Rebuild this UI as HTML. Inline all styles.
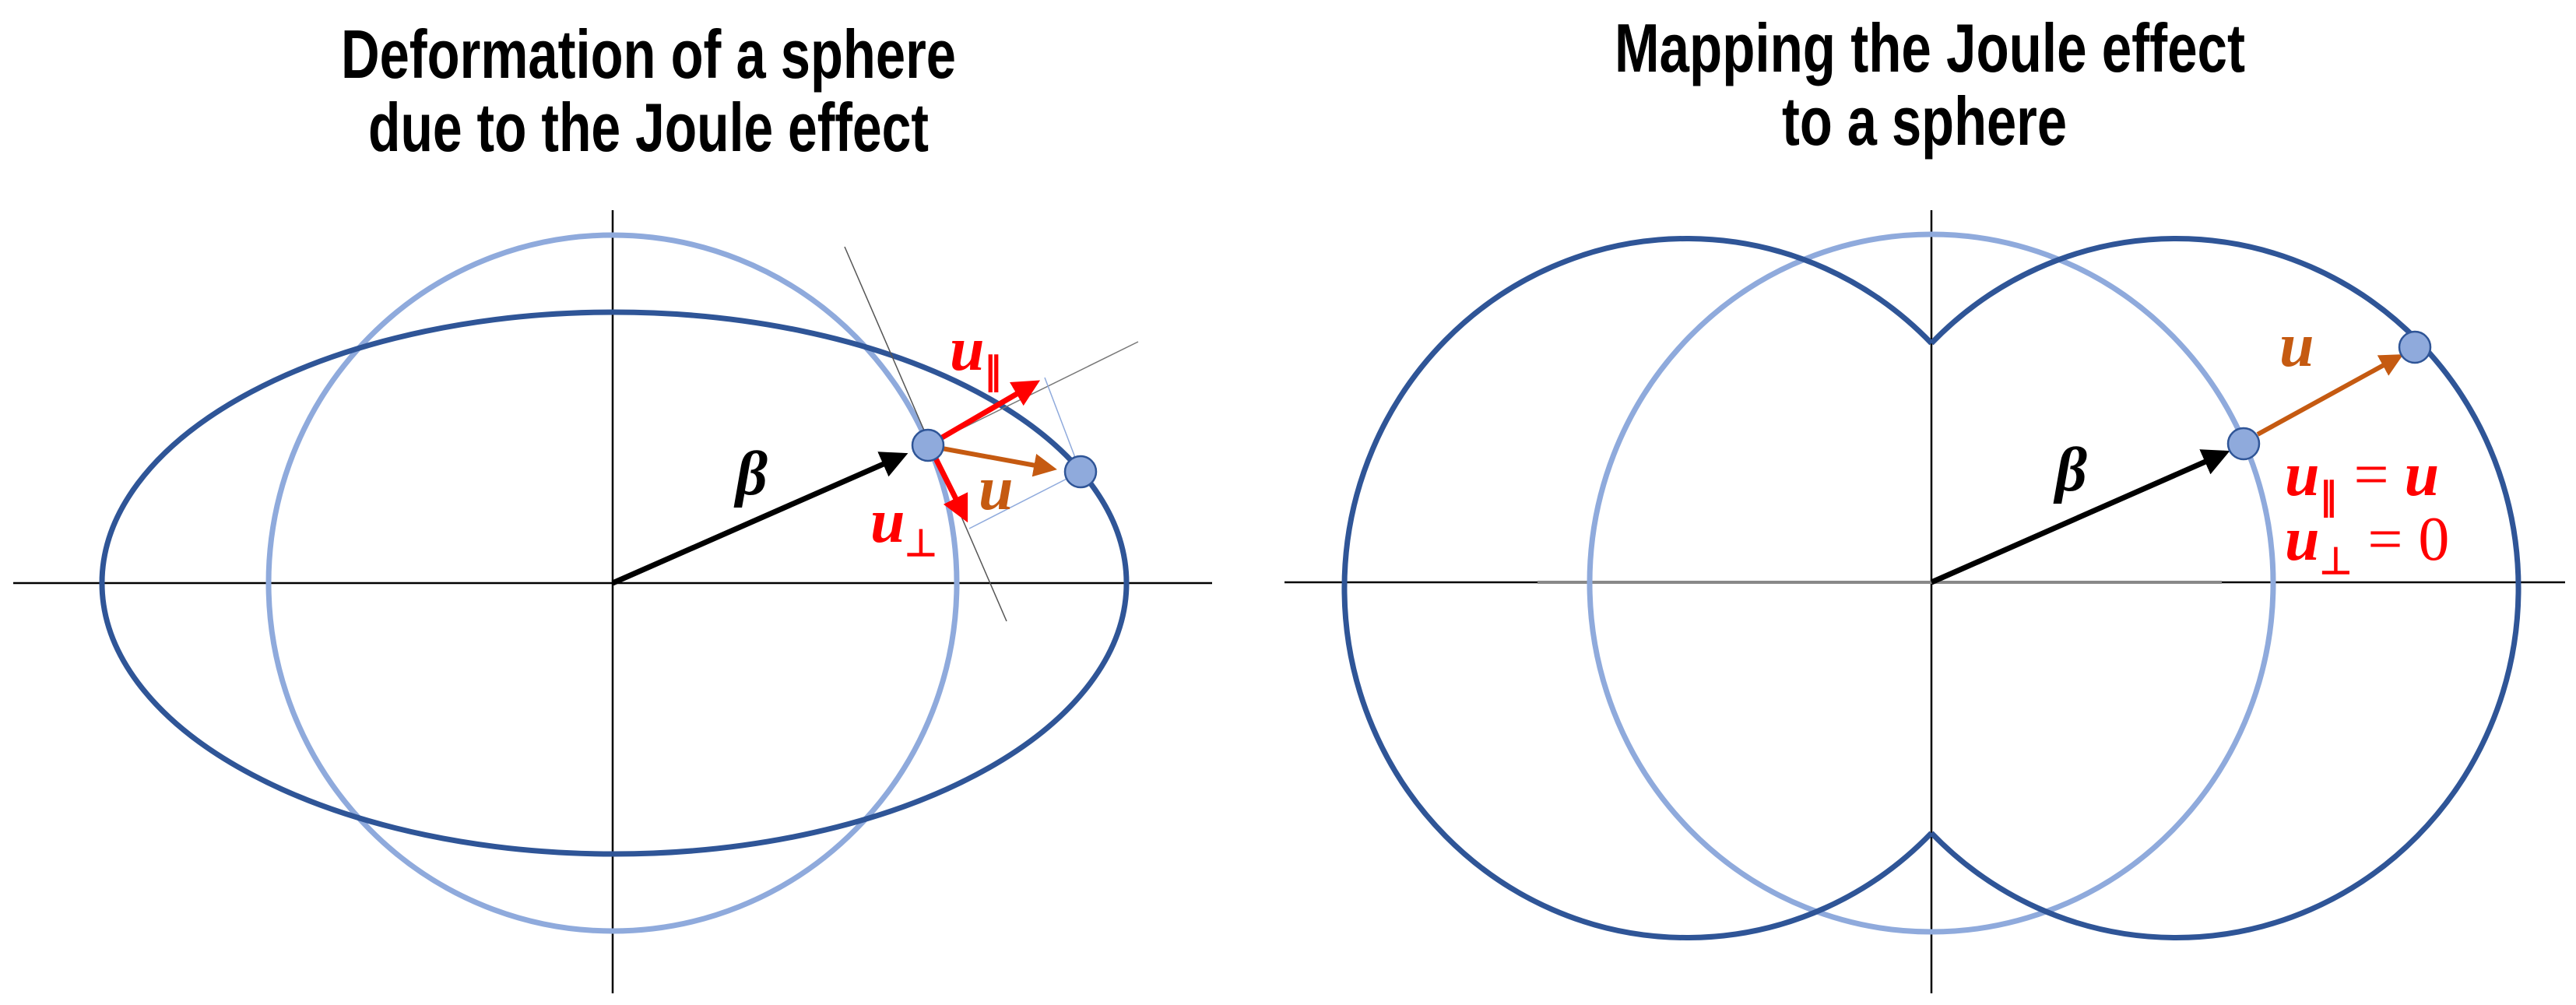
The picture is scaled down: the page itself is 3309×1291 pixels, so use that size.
<!DOCTYPE html>
<html><head><meta charset="utf-8"><style>html,body{margin:0;padding:0;background:#fff}svg{display:block}</style></head>
<body>
<svg width="3309" height="1291" viewBox="0 0 3309 1291" xmlns="http://www.w3.org/2000/svg">
<defs>
<marker id="ak" markerWidth="5" markerHeight="5" refX="4" refY="2.5" orient="auto" markerUnits="strokeWidth"><path d="M0,0 L5,2.5 L0,5 Z" fill="#000"/></marker>
<marker id="ar" markerWidth="5" markerHeight="5" refX="4" refY="2.5" orient="auto" markerUnits="strokeWidth"><path d="M0,0 L5,2.5 L0,5 Z" fill="#ff0000"/></marker>
<marker id="ao" markerWidth="5" markerHeight="5" refX="4" refY="2.5" orient="auto" markerUnits="strokeWidth"><path d="M0,0 L5,2.5 L0,5 Z" fill="#C55A11"/></marker>
</defs>
<g font-family="'Liberation Sans', sans-serif" font-weight="bold" font-size="88" fill="#000" text-anchor="middle">
<text x="833" y="100" textLength="790" lengthAdjust="spacingAndGlyphs">Deformation of a sphere</text>
<text x="833" y="194" textLength="720" lengthAdjust="spacingAndGlyphs">due to the Joule effect</text>
<text x="2479" y="92" textLength="810" lengthAdjust="spacingAndGlyphs">Mapping the Joule effect</text>
<text x="2472" y="186" textLength="366" lengthAdjust="spacingAndGlyphs">to a sphere</text>
</g>
<!-- Left panel -->
<line x1="787" y1="270" x2="787" y2="1276" stroke="#000" stroke-width="2.5"/>
<line x1="17" y1="749" x2="1557" y2="749" stroke="#000" stroke-width="2.5"/>
<ellipse cx="787" cy="749" rx="442" ry="447" fill="none" stroke="#8FAADC" stroke-width="7"/>
<ellipse cx="789" cy="749" rx="658" ry="348" fill="none" stroke="#2F5597" stroke-width="7"/>
<line x1="1085" y1="317" x2="1293" y2="798" stroke="#555" stroke-width="1.5"/>
<line x1="1192" y1="572" x2="1462" y2="439" stroke="#777" stroke-width="1.5"/>
<line x1="1342" y1="485" x2="1388" y2="606" stroke="#8FAADC" stroke-width="1.5"/>
<line x1="1245" y1="679" x2="1388" y2="606" stroke="#8FAADC" stroke-width="1.5"/>
<line x1="787" y1="749" x2="1160" y2="585" stroke="#000" stroke-width="7" marker-end="url(#ak)"/>
<line x1="1205" y1="565" x2="1330" y2="492" stroke="#ff0000" stroke-width="7" marker-end="url(#ar)"/>
<line x1="1200" y1="585" x2="1240" y2="665" stroke="#ff0000" stroke-width="7" marker-end="url(#ar)"/>
<line x1="1210" y1="576" x2="1352" y2="602" stroke="#C55A11" stroke-width="6" marker-end="url(#ao)"/>
<circle cx="1192" cy="572" r="20" fill="#8FAADC" stroke="#2F5597" stroke-width="2.5"/>
<circle cx="1388" cy="606" r="20" fill="#8FAADC" stroke="#2F5597" stroke-width="2.5"/>
<g font-family="'Liberation Serif', serif" font-style="italic" font-weight="bold" font-size="80">
<text x="945" y="635" fill="#000">β</text>
<text x="1220" y="475" fill="#ff0000">u</text><text x="1264" y="493" fill="#ff0000" font-size="48" font-style="normal">∥</text>
<text x="1118" y="696" fill="#ff0000">u</text><text x="1162" y="714" fill="#ff0000" font-size="48" font-style="normal">⊥</text>
<text x="1257" y="654" fill="#C55A11">u</text>
</g>
<!-- Right panel -->
<line x1="2481" y1="270" x2="2481" y2="1276" stroke="#000" stroke-width="2.5"/>
<line x1="1650" y1="748" x2="3295" y2="748" stroke="#000" stroke-width="2.5"/>
<line x1="1975" y1="748" x2="2854" y2="748" stroke="#888" stroke-width="4"/>
<ellipse cx="2481" cy="749" rx="439" ry="448" fill="none" stroke="#8FAADC" stroke-width="7"/>
<path d="M2481,441 A440,449 0 1 0 2481,1070" fill="none" stroke="#2F5597" stroke-width="7"/>
<path d="M2481,441 A440,449 0 1 1 2481,1070" fill="none" stroke="#2F5597" stroke-width="7"/>
<line x1="2481" y1="748" x2="2858" y2="582" stroke="#000" stroke-width="7" marker-end="url(#ak)"/>
<line x1="2900" y1="558" x2="3082" y2="458" stroke="#C55A11" stroke-width="6" marker-end="url(#ao)"/>
<circle cx="2882" cy="570" r="20" fill="#8FAADC" stroke="#2F5597" stroke-width="2.5"/>
<circle cx="3102" cy="446" r="20" fill="#8FAADC" stroke="#2F5597" stroke-width="2.5"/>
<g font-family="'Liberation Serif', serif" font-style="italic" font-weight="bold" font-size="80">
<text x="2640" y="630" fill="#000">β</text>
<text x="2928" y="470" fill="#C55A11">u</text>
<text x="2935" y="636" fill="#ff0000">u<tspan font-size="48" font-style="normal" dy="18">∥</tspan><tspan dy="-18" font-style="normal" font-weight="normal"> = </tspan>u</text>
<text x="2935" y="719" fill="#ff0000">u<tspan font-size="48" font-style="normal" dy="18">⊥</tspan><tspan dy="-18" font-style="normal" font-weight="normal"> = 0</tspan></text>
</g>
</svg>
</body></html>
